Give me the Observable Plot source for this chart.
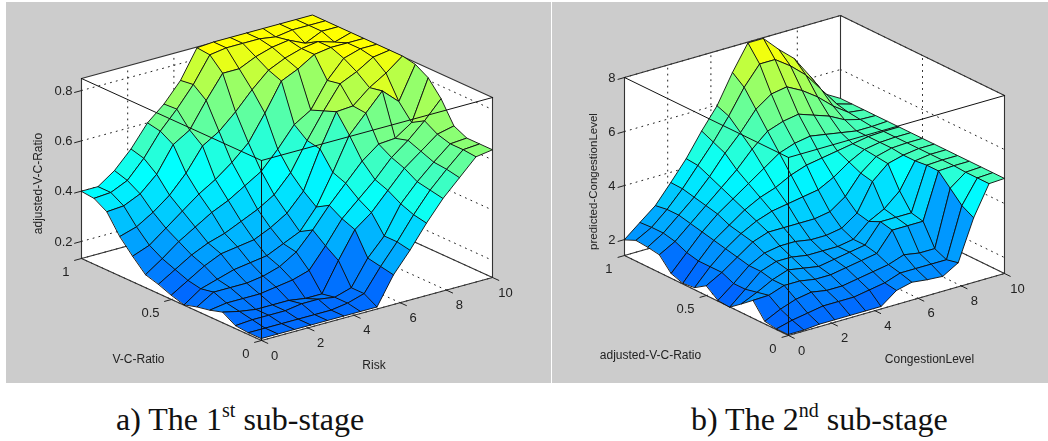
<!DOCTYPE html>
<html><head><meta charset="utf-8">
<script src="https://cdn.jsdelivr.net/npm/d3@7"></script>
<script src="https://cdn.jsdelivr.net/npm/@observablehq/plot@0.6"></script>
<style>
html,body{margin:0;padding:0;background:#fff;width:1048px;height:441px;overflow:hidden}
#a,#b{position:absolute;top:2px}
#a{left:6px}#b{left:552px}
svg{display:block}
.cap{position:absolute;top:401px;font:32px/36px "Liberation Serif",serif;color:#111;white-space:nowrap}
.cap sup{font-size:20px;line-height:0;vertical-align:baseline;position:relative;top:-13px}
</style></head><body>
<div id="a"></div><div id="b"></div>
<div class="cap" style="left:116px">a) The 1<sup>st</sup> sub-stage</div>
<div class="cap" style="left:691px">b) The 2<sup>nd</sup> sub-stage</div>
<script>
const riskTicks=[0,2,4,6,8,10];
const ratioTicks=[0,0.5,1];
const zTicks1=[0.2,0.4,0.6,0.8];
const zTicks2=[2,4,6,8];
const titles1=["adjusted-V-C-Ratio","V-C-Ratio","Risk"];
const titles2=["predicted-CongestionLevel","adjusted-V-C-Ratio","CongestionLevel"];
// rows: ratio 0 -> 1 ; columns: x 0 -> 10
const surface1=[
[.14,.14,.14,.14,.14,.14,.14,.14,.25,.33,.42,.50,.565,.63,.64],
[.14,.14,.14,.14,.14,.14,.15,.17,.26,.34,.43,.51,.575,.635,.64],
[.145,.15,.15,.15,.16,.16,.15,.17,.27,.34,.45,.52,.58,.635,.64],
[.175,.16,.15,.15,.15,.14,.14,.255,.36,.41,.48,.55,.60,.65,.665],
[.16,.17,.17,.17,.18,.19,.21,.29,.38,.44,.50,.57,.62,.68,.75],
[.15,.19,.19,.19,.20,.22,.26,.33,.41,.48,.55,.60,.605,.65,.81],
[.135,.18,.20,.22,.23,.24,.27,.30,.38,.50,.63,.70,.77,.71,.84],
[.15,.19,.23,.26,.27,.28,.31,.35,.42,.57,.70,.705,.76,.80,.85],
[.17,.21,.25,.28,.30,.33,.36,.40,.47,.58,.68,.77,.80,.84,.85],
[.185,.23,.28,.32,.36,.39,.43,.47,.54,.62,.66,.76,.83,.85,.85],
[.235,.26,.31,.36,.41,.45,.50,.56,.66,.77,.80,.84,.85,.85,.85],
[.29,.31,.35,.40,.47,.56,.60,.66,.73,.79,.82,.84,.85,.83,.85],
[.365,.37,.40,.46,.56,.60,.70,.79,.79,.82,.84,.85,.82,.85,.85],
[.395,.40,.43,.50,.59,.66,.74,.84,.85,.85,.85,.84,.85,.85,.85],
[.40,.40,.446,.514,.60,.657,.733,.845,.85,.85,.85,.85,.85,.85,.85]];
const surface2=[
[1.45,1.45,1.5,1.5,1.5,1.5,1.5,1.93,2.07,2.0,1.96,2.3,3.8,4.9,4.93],
[1.45,1.6,1.7,1.8,1.8,1.8,1.9,2.0,2.2,2.2,2.2,2.2,4.04,4.9,4.93],
[1.52,1.8,2.0,2.1,2.0,2.0,2.1,2.2,2.3,2.5,2.4,2.4,4.47,4.9,4.93],
[2.08,2.1,2.3,2.3,2.2,2.2,2.3,2.4,2.5,3.2,3.2,3.2,4.9,4.93,4.93],
[1.74,2.0,2.3,2.5,2.4,2.3,2.4,2.5,2.6,3.3,3.3,3.3,4.9,4.93,4.93],
[1.41,1.9,2.4,2.6,2.6,2.5,2.5,2.5,2.6,3.1,3.4,3.9,4.85,4.93,4.93],
[1.45,1.9,2.4,2.7,2.8,2.8,2.7,2.7,2.8,3.2,4.2,4.7,4.85,4.93,4.93],
[1.78,2.1,2.5,2.9,3.1,3.1,3.1,3.1,3.2,3.6,4.3,4.75,4.9,4.93,4.93],
[1.5,2.1,2.6,3.0,3.3,3.5,3.6,3.7,3.8,4.1,4.5,4.8,4.9,4.93,4.93],
[1.45,2.1,2.7,3.1,3.5,3.8,4.0,4.3,4.5,4.6,4.7,4.8,4.9,4.93,4.93],
[1.6,2.2,2.8,3.3,3.7,4.1,4.5,4.9,5.1,5.2,5.1,5.0,4.9,4.9,4.93],
[2.08,2.4,2.9,3.4,3.9,4.4,5.0,5.5,5.7,5.8,5.6,5.4,5.1,4.95,4.93],
[2.15,2.5,3.0,3.5,4.1,4.8,5.4,6.1,6.5,6.6,6.3,5.9,5.4,5.0,4.93],
[2.19,2.5,3.0,3.6,4.3,5.0,5.8,6.7,7.4,7.4,7.0,6.5,5.8,5.1,4.93],
[2.0,2.47,2.93,3.62,4.34,5.2,5.97,7.04,7.97,7.97,7.4,6.9,6.1,5.26,4.93]];

const view1={el:"a",left:6,width:545,rows:surface1,zTicks:zTicks1,titles:titles1,z0:.132,z1:.848,ox:261,oy:340,ax:231,ay:63,bx:180,by:82,H:180,
  colors:[.13,.40,.83],fmt:d3.format(".1f"),zLabelDx:-9,tDx:[-43,-33,-3],tDy:[15,60,56]};
const view2={el:"b",left:552,width:496,rows:surface2,zTicks:zTicks2,titles:titles2,z0:1.41,z1:8,ox:788,oy:335,ax:216,ay:62,bx:164,by:80,H:178,
  colors:[1.41,3.88,7.6],fmt:d3.format("d"),zLabelDx:-9,tDx:[-31,-56,33],tDy:[15,60,55]};

function draw(v){
  const P=(r,w,z)=>({x:v.ox+r/10*v.ax-w*v.bx,y:v.oy-r/10*v.ay-w*v.by-(z-v.z0)/(v.z1-v.z0)*v.H});
  const n=v.rows.length,m=v.rows[0].length,lo=v.z0,hi=v.z1;
  const poly=(id,pts)=>pts.map(p=>({id,...p}));
  const quads=[];
  for(let j=n-2;j>=0;j--)for(let i=m-2;i>=0;i--){
    const c=[[i,j],[i+1,j],[i+1,j+1],[i,j+1]];
    const val=v.rows[j][i];
    c.forEach(([a,b])=>quads.push({q:j*100+i,val,...P(a*10/(m-1),b/(n-1),v.rows[b][a])}));
  }
  const walls=[
    ...poly("l",[P(0,1,lo),P(10,1,lo),P(10,1,hi),P(0,1,hi)]),
    ...poly("r",[P(10,0,lo),P(10,1,lo),P(10,1,hi),P(10,0,hi)]),
    ...poly("f",[P(0,0,lo),P(10,0,lo),P(10,1,lo),P(0,1,lo)])];
  const dots=[];let k=0;
  const seg=(arr,a,b)=>{k++;arr.push({id:k,...a},{id:k,...b});};
  for(const t of riskTicks){seg(dots,P(t,0,lo),P(t,1,lo));seg(dots,P(t,1,lo),P(t,1,hi));}
  for(const t of ratioTicks){seg(dots,P(0,t,lo),P(10,t,lo));seg(dots,P(10,t,lo),P(10,t,hi));}
  for(const t of v.zTicks){seg(dots,P(0,1,t),P(10,1,t));seg(dots,P(10,1,t),P(10,0,t));}
  const back=[],front=[],tick=[];
  seg(back,P(0,1,lo),P(10,1,lo));seg(back,P(10,1,lo),P(10,0,lo));seg(back,P(10,1,lo),P(10,1,hi));
  seg(back,P(0,1,lo),P(0,1,hi));seg(back,P(10,0,lo),P(10,0,hi));
  seg(back,P(0,1,hi),P(10,1,hi));seg(back,P(10,1,hi),P(10,0,hi));
  seg(back,P(0,0,lo),P(0,1,lo));seg(back,P(0,0,lo),P(10,0,lo));
  seg(front,P(0,0,lo),P(0,0,hi));seg(front,P(0,0,hi),P(0,1,hi));seg(front,P(0,0,hi),P(10,0,hi));
  for(const t of riskTicks)seg(tick,P(t,0,lo),P(t,-.035,lo));
  for(const t of ratioTicks)seg(tick,P(0,t,lo),P(-.3,t,lo));
  for(const t of v.zTicks)seg(tick,P(0,1,t),P(-.3,1,t));
  const line=(d,o)=>Plot.line(d,{x:"x",y:"y",z:"id",...o});
  const txt={fontFamily:"Liberation Sans, Arial, sans-serif",fontSize:13,fill:"#222",stroke:"none"};
  const pos=(p,text)=>({...p,text});
  const mid=(v.z0+v.z1)/2;
  const fig=Plot.plot({
    width:v.width,height:381,margin:0,
    style:{background:"#cccccc",overflow:"hidden",filter:"blur(0.35px)"},
    x:{domain:[v.left,v.left+v.width],range:[0,v.width],axis:null},
    y:{domain:[2,383],range:[0,381],axis:null},
    color:{type:"linear",domain:v.colors,range:["#0066ff","#00ffff","#ffff00"],interpolate:"rgb",clamp:true},
    marks:[
      Plot.line(walls,{x:"x",y:"y",z:"id",fill:"#fff",stroke:"none",curve:"linear-closed"}),
      line(dots,{stroke:"#222",strokeWidth:1,strokeDasharray:"1,5"}),
      line(back,{stroke:"#333",strokeWidth:1.1}),
      line(tick,{stroke:"#222",strokeWidth:1}),
      Plot.line(quads,{x:"x",y:"y",z:"q",fill:"val",stroke:"#0c0c0c",strokeWidth:.9,curve:"linear-closed"}),
      line(front,{stroke:"#111",strokeWidth:1}),
      Plot.text(riskTicks.map(t=>pos(P(t,0,lo),String(t))),{x:"x",y:"y",text:"text",dx:13,dy:15,...txt}),
      Plot.text(ratioTicks.map(t=>pos(P(0,t,lo),String(t))),{x:"x",y:"y",text:"text",dx:-12,dy:13,textAnchor:"end",...txt}),
      Plot.text(v.zTicks.map(t=>pos(P(0,1,t),v.fmt(t))),{x:"x",y:"y",text:"text",dx:v.zLabelDx,textAnchor:"end",...txt}),
      Plot.text([pos(P(0,1,mid),v.titles[0])],{x:"x",y:"y",text:"text",rotate:-90,dx:v.tDx[0],dy:v.tDy[0],...txt,fontSize:v===view2?11.5:12}),
      Plot.text([pos(P(0,.5,lo),v.titles[1])],{x:"x",y:"y",text:"text",dx:v.tDx[1],dy:v.tDy[1],...txt,fontSize:12}),
      Plot.text([pos(P(5,0,lo),v.titles[2])],{x:"x",y:"y",text:"text",dx:v.tDx[2],dy:v.tDy[2],...txt,fontSize:12})
    ]});
  document.getElementById(v.el).appendChild(fig);
}
draw(view1);draw(view2);
</script></body></html>
